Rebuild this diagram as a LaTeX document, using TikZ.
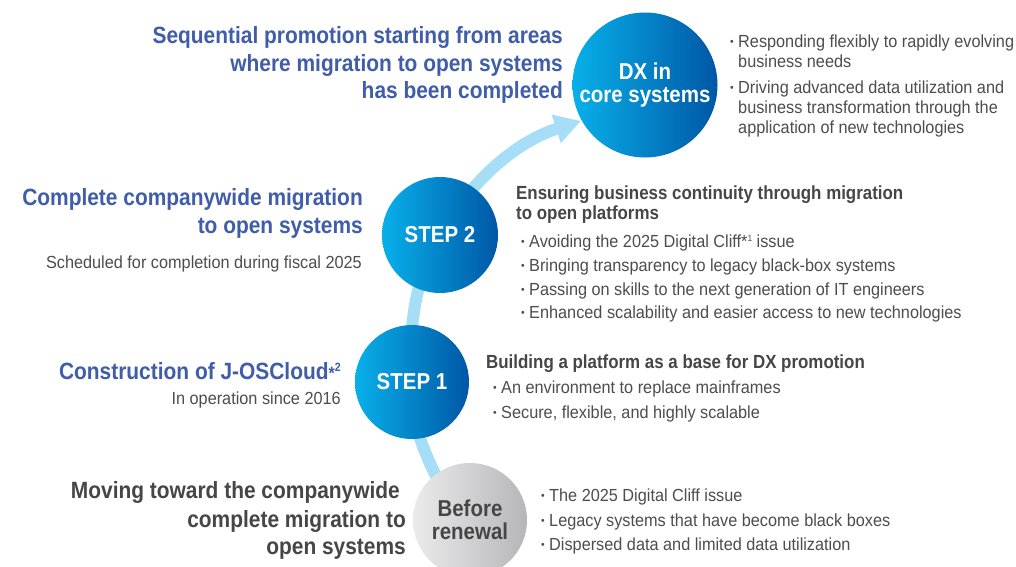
\documentclass[tikz,border=0pt]{standalone}
\usepackage{fontspec}
\usepackage{graphicx}
\setmainfont{Liberation Sans}[FakeStretch=0.93]
\newfontfamily\bfam{Liberation Sans}[FakeStretch=0.89]
\usetikzlibrary{arrows.meta}
\definecolor{hblue}{HTML}{3F5DA8}
\definecolor{tgray}{HTML}{4D4D4D}
\definecolor{dgray}{HTML}{464646}
\definecolor{cyanL}{HTML}{08B0EA}
\definecolor{blueD}{HTML}{0057A6}
\definecolor{arcblue}{HTML}{A6DDF7}
\definecolor{grayL}{HTML}{EBEBEC}
\definecolor{grayD}{HTML}{B6B6B8}
\newcommand{\bul}{\makebox[8pt][l]{\raisebox{1.2pt}{\fontsize{11}{11}\selectfont •}}}
\newcommand{\hsup}[1]{{\fontsize{18}{18}\selectfont *}\raisebox{7.6pt}{\fontsize{12}{12}\selectfont #1}}
\newcommand{\bsup}[1]{*\raisebox{6pt}{\fontsize{9}{9}\selectfont #1}}
\tikzset{
  circ/.style={circle, minimum size=#1, inner sep=0pt, align=center,
    font=\bfam\bfseries\fontsize{23}{23.5}\selectfont},
  bluec/.style={circ=#1, left color=cyanL, right color=blueD, text=white},
  grayc/.style={circ=#1, left color=grayL, right color=grayD, text=dgray},
  headR/.style={anchor=base east, inner sep=0pt, text=hblue,
    font=\bfam\bfseries\fontsize{23.5}{28}\selectfont},
  headG/.style={headR, text=dgray},
  subR/.style={anchor=base east, inner sep=0pt, text=tgray,
    font=\fontsize{17.5}{21}\selectfont},
  subL/.style={anchor=base west, inner sep=0pt, text=dgray,
    font=\bfam\bfseries\fontsize{19}{21}\selectfont},
  bodyL/.style={anchor=base west, inner sep=0pt, text=tgray,
    font=\fontsize{17.5}{21}\selectfont},
  arcline/.style={draw=arcblue, line width=12pt,
    -{Triangle[width=28pt,length=26pt]}}
}
\begin{document}
\begin{tikzpicture}[x=1pt,y=-1pt]
\clip (0,0) rectangle (1016,566);
\fill[white] (0,0) rectangle (1016,566);

% arc
\coordinate (a0) at (452,505);
\coordinate (a1) at (410,380);
\coordinate (a2) at (440,235);
\coordinate (a3) at (581,121);
\draw[arcline] (a0) .. controls (425,460) and (410,420) .. (a1)
  .. controls (410,320) and (415,280) .. (a2)
  .. controls (470,182) and (515,142) .. (a3);

% circles
\node[bluec=145pt] (dx) at (645,85) {DX in\\core systems};
\node[bluec=116pt] (s2) at (440,235) {STEP 2};
\node[bluec=114pt] (s1) at (412,382) {STEP 1};
\node[grayc=114pt] (br) at (470,520) {Before\\renewal};

% left headings
\node[headR] (h1a) at (563,43) {Sequential promotion starting from areas};
\node[headR] (h1b) at (563,71) {where migration to open systems};
\node[headR] (h1c) at (563,98) {has been completed};
\node[headR] (h2a) at (363,205) {Complete companywide migration};
\node[headR] (h2b) at (363,233) {to open systems};
\node[subR] (h2c) at (362,268) {Scheduled for completion during fiscal 2025};
\node[headR] (h3a) at (341,379) {Construction of J-OSCloud\hsup{2}};
\node[subR] (h3b) at (341,404) {In operation since 2016};
\node[headG] (h4a) at (400,498) {Moving toward the companywide};
\node[headG] (h4b) at (406,527) {complete migration to};
\node[headG] (h4c) at (406,554) {open systems};

% DX bullets
\node[bodyL] (d1) at (730,47) {\bul Responding flexibly to rapidly evolving};
\node[bodyL] (d2) at (738,67) {business needs};
\node[bodyL] (d3) at (730,93) {\bul Driving advanced data utilization and};
\node[bodyL] (d4) at (738,113) {business transformation through the};
\node[bodyL] (d5) at (738,133) {application of new technologies};

% STEP 2 texts
\node[subL] (t2a) at (516,199) {Ensuring business continuity through migration};
\node[subL] (t2b) at (516,219) {to open platforms};
\node[bodyL] (t2c) at (521,247) {\bul Avoiding the 2025 Digital Cliff\bsup{1} issue};
\node[bodyL] (t2d) at (521,271) {\bul Bringing transparency to legacy black-box systems};
\node[bodyL] (t2e) at (521,295) {\bul Passing on skills to the next generation of IT engineers};
\node[bodyL] (t2f) at (521,318) {\bul Enhanced scalability and easier access to new technologies};

% STEP 1 texts
\node[subL] (t1a) at (486,368) {Building a platform as a base for DX promotion};
\node[bodyL] (t1b) at (493,393) {\bul An environment to replace mainframes};
\node[bodyL] (t1c) at (493,418) {\bul Secure, flexible, and highly scalable};

% Before texts
\node[bodyL] (b1) at (541,501) {\bul The 2025 Digital Cliff issue};
\node[bodyL] (b2) at (541,526) {\bul Legacy systems that have become black boxes};
\node[bodyL] (b3) at (541,550) {\bul Dispersed data and limited data utilization};
\end{tikzpicture}
\end{document}
